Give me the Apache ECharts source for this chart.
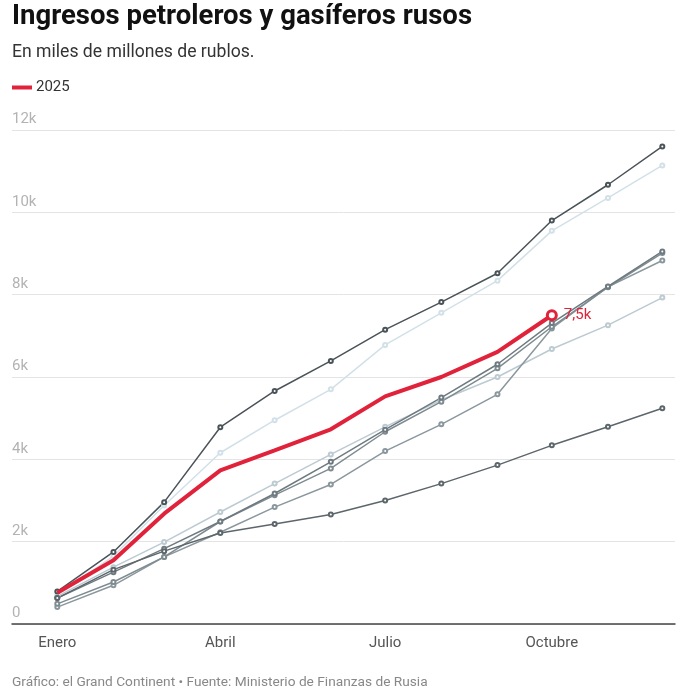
<!DOCTYPE html>
<html>
<head>
<meta charset="utf-8">
<script src="https://cdn.jsdelivr.net/npm/echarts@6/dist/echarts.min.js"></script>
<style>
  html, body { margin: 0; padding: 0; background: #fff; }
  #chart { width: 688px; height: 688px; }
</style>
</head>
<body>
<div id="chart"></div>
<script>
// dia del año del primer dia de cada mes
var dias = [0, 31, 59, 90, 120, 151, 181, 212, 243, 273, 304, 334];
var etiquetasMeses = { 0: 'Enero', 90: 'Abril', 181: 'Julio', 273: 'Octubre' };
var ticksY = [0, 2000, 4000, 6000, 8000, 10000, 12000];

// acumulado en miles de millones de rublos
var anio2018 = [490, 1020, 1630, 2490, 3130, 3780, 4670, 5400, 6210, 7220, 8180, 9010];
var anio2019 = [670, 1380, 1990, 2720, 3410, 4120, 4790, 5440, 6000, 6680, 7260, 7930];
var anio2020 = [630, 1320, 1770, 2210, 2430, 2660, 3000, 3410, 3860, 4340, 4790, 5240];
var anio2021 = [630, 1260, 1830, 2490, 3170, 3940, 4720, 5500, 6310, 7310, 8200, 9050];
var anio2022 = [790, 1750, 2960, 4780, 5660, 6390, 7150, 7820, 8520, 9800, 10670, 11600];
var anio2023 = [410, 940, 1630, 2230, 2840, 3390, 4200, 4850, 5580, 7180, 8190, 8830];
var anio2024 = [700, 1650, 2880, 4160, 4950, 5700, 6780, 7560, 8340, 9550, 10350, 11140];
var anio2025 = [760, 1550, 2680, 3730, 4220, 4730, 5530, 6000, 6610, 7500];

var chart = echarts.init(document.getElementById('chart'));

function pares(valores) {
	return valores.map(function(v, i) { return [dias[i], v]; });
}

function fmtK(v) {
	if (v === 0) return '0';
	var k = v / 1000;
	return (k % 1 === 0 ? k : k.toFixed(1).replace('.', ',')) + 'k';
}

function serieGris(nombre, valores, color) {
	return {
		name: nombre,
		type: 'line',
		data: pares(valores),
		symbol: 'emptyCircle',
		symbolSize: 4,
		lineStyle: { color: color, width: 1.5 },
		itemStyle: { color: color, borderWidth: 1 },
		emphasis: { disabled: true },
		z: 2
	};
}

var datos2025 = pares(anio2025).map(function(p, i) {
	if (i < anio2025.length - 1) return { value: p, symbol: 'none' };
	return {
		value: p,
		symbol: 'circle',
		symbolSize: 9,
		itemStyle: { color: '#fff', borderColor: '#e0233a', borderWidth: 3 },
		label: {
			show: true,
			position: 'right',
			distance: 6,
			formatter: function(d) { return fmtK(d.value[1]); },
			color: '#e0233a',
			fontSize: 15,
			fontFamily: 'Roboto'
		}
	};
});

var option = {
	animation: false,
	textStyle: { fontFamily: 'Roboto' },
	title: [
		{
			text: 'Ingresos petroleros y gasíferos rusos',
			left: 7, top: -2,
			textStyle: { fontSize: 27.5, fontWeight: 'bold', color: '#111', fontFamily: 'Roboto' }
		},
		{
			text: 'En miles de millones de rublos.',
			left: 7, top: 39,
			textStyle: { fontSize: 17.6, fontWeight: 'normal', color: '#333', fontFamily: 'Roboto' }
		},
		{
			text: 'Gráfico: el Grand Continent • Fuente: Ministerio de Finanzas de Rusia',
			left: 7, top: 671,
			textStyle: { fontSize: 13.7, fontWeight: 'normal', color: '#888', fontFamily: 'Roboto' }
		}
	],
	legend: {
		data: ['2025'],
		left: 12, top: 80,
		icon: 'rect',
		itemWidth: 20, itemHeight: 4,
		itemGap: 10,
		padding: 0,
		textStyle: { fontSize: 15, color: '#333', padding: [0, 0, 0, -1] }
	},
	grid: { left: 12, right: 13, top: 130, bottom: 64 },
	xAxis: {
		type: 'value',
		min: -25,
		max: 341,
		splitLine: { show: false },
		axisTick: { show: false },
		axisLine: { show: true, lineStyle: { color: '#444', width: 1.5 } },
		axisLabel: {
			customValues: [0, 90, 181, 273],
			formatter: function(v) { return etiquetasMeses[v] || ''; },
			color: '#555',
			fontSize: 15,
			margin: 12
		}
	},
	yAxis: {
		type: 'value',
		min: ticksY[0],
		max: ticksY[ticksY.length - 1],
		interval: 2000,
		axisLine: { show: false },
		axisTick: { show: false },
		splitLine: { lineStyle: { color: '#e4e4e4', width: 1 } },
		axisLabel: {
			inside: true,
			margin: 0,
			verticalAlign: 'bottom',
			padding: [0, 0, 3, 0],
			color: '#b3b3b3',
			fontSize: 15,
			formatter: fmtK
		}
	},
	series: [
		serieGris('2019', anio2019, '#bccad1'),
		serieGris('2024', anio2024, '#d2e0e8'),
		serieGris('2023', anio2023, '#8a979d'),
		serieGris('2018', anio2018, '#7e8b91'),
		serieGris('2021', anio2021, '#6e7a80'),
		serieGris('2020', anio2020, '#5c666b'),
		serieGris('2022', anio2022, '#4a5358'),
		{
			name: '2025',
			type: 'line',
			data: datos2025,
			lineStyle: { color: '#e0233a', width: 4 },
			itemStyle: { color: '#e0233a' },
			emphasis: { disabled: true },
			z: 5
		}
	]
};

chart.setOption(option);
</script>
</body>
</html>
